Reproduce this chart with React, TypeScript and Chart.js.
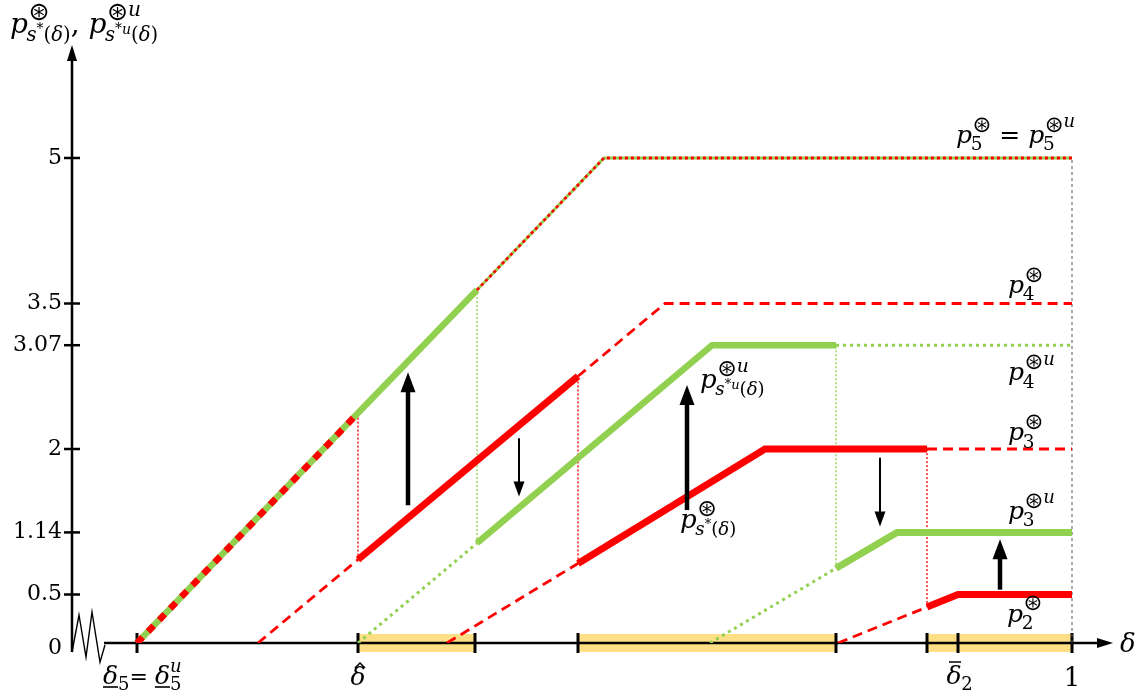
import React, { useEffect, useRef } from 'react';
import { Chart, registerables } from 'chart.js';
Chart.register(...registerables);

// ---------- data ----------
const yTicks = [0, 0.5, 1.14, 2, 3.07, 3.5, 5];
const xTicks = [0.065, 0.286, 0.403, 0.506, 0.764, 0.855, 0.886, 1];

const p5X = [0.065, 0.286, 0.405, 0.532, 1];
const p5Y = [0, 2.37, 3.64, 5, 5];
const p4X = [0.186, 0.286, 0.506, 0.593, 1];
const p4Y = [0, 0.86, 2.75, 3.5, 3.5];
const p4uX = [0.286, 0.405, 0.64, 0.764, 1];
const p4uY = [0, 1.03, 3.07, 3.07, 3.07];
const p3X = [0.375, 0.506, 0.693, 0.855, 1];
const p3Y = [0, 0.82, 2, 2, 2];
const p3uX = [0.638, 0.764, 0.825, 1];
const p3uY = [0, 0.77, 1.14, 1.14];
const p2X = [0.766, 0.855, 0.886, 1];
const p2Y = [0, 0.37, 0.5, 0.5];

// segment kinds per curve
const p5Kinds = ['mix', 'solid', 'thin', 'thin'];
const p4Kinds = ['dash', 'solid', 'dash', 'dash'];
const p4uKinds = ['dot', 'solid', 'solid', 'dot'];
const p3Kinds = ['dash', 'solid', 'solid', 'dash'];
const p3uKinds = ['dot', 'solid', 'solid'];
const p2Kinds = ['dash', 'solid', 'solid'];

// vertical connectors
const connX = [0.286, 0.405, 0.506, 0.764, 0.855, 1];
const connLo = [0.86, 1.03, 0.82, 0.77, 0.37, 0];
const connHi = [2.37, 3.64, 2.75, 3.07, 2, 5];
const connKind = ['red', 'green', 'red', 'green', 'red', 'black'];

// arrows
const arrowX = [0.336, 0.447, 0.615, 0.808, 0.928];
const arrowFrom = [1.42, 2.11, 1.37, 1.91, 0.55];
const arrowTo = [2.79, 1.51, 2.66, 1.2, 1.07];
const arrowBold = [true, false, true, false, true];

// highlighted intervals on the delta axis
const bandStart = [0.286, 0.506, 0.855];
const bandEnd = [0.403, 0.764, 1.0];

// label anchor positions (data coords)
const lblX = [0.884, 0.936, 0.936, 0.936, 0.936, 0.935, 0.628, 0.608];
const lblY = [5.155, 3.61, 2.71, 2.09, 1.28, 0.22, 2.63, 1.19];

const RED = '#FF0000';
const GREEN = '#92D050';
const YELLOW = '#FFDF85';
const SERIF = '"DejaVu Serif"';

// ---------- text helpers ----------
type Run = { t: string; k: number; r: number; it?: boolean; sans?: boolean };
const fnt = (s: number, it?: boolean, sans?: boolean) =>
  `${it ? 'italic ' : ''}${s.toFixed(1)}px ${sans ? '"DejaVu Sans"' : SERIF}`;
function runs(ctx: CanvasRenderingContext2D, x: number, y: number, S: number, list: Run[]) {
  for (const r of list) {
    ctx.font = fnt(S * r.k, r.it, r.sans);
    ctx.fillText(r.t, x, y - r.r * S);
    x += ctx.measureText(r.t).width;
  }
  return x;
}
const STAR: Run = { t: '⊛', k: 0.9, r: 0.45, sans: true };
const SUPU: Run = { t: 'u', k: 0.72, r: 0.62, it: true };
const sb = (t: string, it = false): Run => ({ t, k: 0.7, r: -0.28, it });
const SUB_S: Run[] = [sb('s', true), { t: '*', k: 0.5, r: 0.0 }, sb('('), sb('δ', true), sb(')')];
const SUB_SU: Run[] = [sb('s', true), { t: '*', k: 0.5, r: 0.0 }, { t: 'u', k: 0.5, r: -0.05, it: true }, sb('('), sb('δ', true), sb(')')];
function pBlock(ctx: CanvasRenderingContext2D, x: number, y: number, S: number, sup: Run[], sub: Run[]) {
  ctx.font = fnt(S, true);
  ctx.fillText('p', x, y);
  const x1 = x + ctx.measureText('p').width;
  const a = runs(ctx, x1 + S * 0.02, y, S, sup);
  const b = runs(ctx, x1 - S * 0.05, y, S, sub);
  return Math.max(a, b);
}

function arrowHead(ctx: CanvasRenderingContext2D, x: number, y: number, dx: number, dy: number, len: number, half: number) {
  const bx = x - dx * len, by = y - dy * len;
  ctx.beginPath();
  ctx.moveTo(x, y);
  ctx.lineTo(bx - dy * half, by + dx * half);
  ctx.lineTo(bx + dy * half, by - dx * half);
  ctx.closePath();
  ctx.fill();
}

const decor = {
  id: 'decor',
  beforeDatasetsDraw(chart: any) {
    const { ctx, scales } = chart;
    const xs = scales.x, ys = scales.y;
    const X = (v: number) => xs.getPixelForValue(v);
    const Y = (v: number) => ys.getPixelForValue(v);
    const ox = X(0), oy = Y(0);
    ctx.save();
    ctx.fillStyle = YELLOW;
    bandStart.forEach((s, i) => ctx.fillRect(X(s), oy - 9, X(bandEnd[i]) - X(s), 18));
    ctx.strokeStyle = '#000';
    ctx.fillStyle = '#000';
    ctx.lineWidth = 2.5;
    ctx.beginPath();
    ctx.moveTo(ox, oy + 9);
    ctx.lineTo(ox, ys.top + 14);
    ctx.stroke();
    arrowHead(ctx, ox, ys.top, 0, -1, 16, 5);
    const zz = [[0, 9], [7, -28], [14, 14], [20, -31], [28, 19], [33, 2]];
    ctx.lineWidth = 1.4;
    ctx.beginPath();
    zz.forEach(([dx, dy], i) => (i ? ctx.lineTo(ox + dx, oy + dy) : ctx.moveTo(ox + dx, oy + dy)));
    ctx.stroke();
    ctx.lineWidth = 2.5;
    ctx.beginPath();
    ctx.moveTo(ox + 32, oy);
    ctx.lineTo(xs.right - 12, oy);
    ctx.stroke();
    arrowHead(ctx, xs.right - 4, oy, 1, 0, 16, 5);
    ctx.lineWidth = 2.5;
    ctx.font = fnt(22);
    ctx.textAlign = 'right';
    ctx.textBaseline = 'middle';
    yTicks.forEach((v) => {
      if (v !== 0) {
        ctx.beginPath();
        ctx.moveTo(ox - 8, Y(v));
        ctx.lineTo(ox + 8, Y(v));
        ctx.stroke();
      }
      ctx.fillText(String(v), ox - 10, Y(v) + (v === 0 ? 5 : 0));
    });
    ctx.lineWidth = 3;
    xTicks.forEach((v) => {
      ctx.beginPath();
      ctx.moveTo(X(v), oy - 10);
      ctx.lineTo(X(v), oy + 10);
      ctx.stroke();
    });
    ctx.restore();
  },
  afterDatasetsDraw(chart: any) {
    const { ctx, scales } = chart;
    const xs = scales.x, ys = scales.y;
    const X = (v: number) => xs.getPixelForValue(v);
    const Y = (v: number) => ys.getPixelForValue(v);
    const ox = X(0), oy = Y(0);
    ctx.save();
    ctx.strokeStyle = '#000';
    ctx.fillStyle = '#000';
    arrowX.forEach((ax, i) => {
      const px = X(ax), y0 = Y(arrowFrom[i]), y1 = Y(arrowTo[i]);
      const dir = y1 < y0 ? -1 : 1;
      const bold = arrowBold[i];
      const len = bold ? 20 : 15;
      ctx.lineWidth = bold ? 4.5 : 2;
      ctx.beginPath();
      ctx.moveTo(px, y0);
      ctx.lineTo(px, y1 - dir * (len - 2));
      ctx.stroke();
      arrowHead(ctx, px, y1, 0, dir, len, bold ? 7.5 : 5.5);
    });

    ctx.textAlign = 'left';
    ctx.textBaseline = 'alphabetic';
    let x = pBlock(ctx, ox - 62, ys.top - 12, 28, [STAR], SUB_S);
    ctx.font = fnt(28);
    ctx.fillText(',', x, ys.top - 12);
    x += ctx.measureText(', ').width;
    pBlock(ctx, x, ys.top - 12, 28, [STAR, SUPU], SUB_SU);

    const S = 25;
    const sub = (d: string): Run[] => [{ t: d, k: 0.74, r: -0.3 }];
    let lx = pBlock(ctx, X(lblX[0]), Y(lblY[0]), S, [STAR], sub('5'));
    ctx.font = fnt(S);
    ctx.fillText(' = ', lx, Y(lblY[0]));
    lx += ctx.measureText(' = ').width;
    pBlock(ctx, lx, Y(lblY[0]), S, [STAR, SUPU], sub('5'));
    pBlock(ctx, X(lblX[1]), Y(lblY[1]), S, [STAR], sub('4'));
    pBlock(ctx, X(lblX[2]), Y(lblY[2]), S, [STAR, SUPU], sub('4'));
    pBlock(ctx, X(lblX[3]), Y(lblY[3]), S, [STAR], sub('3'));
    pBlock(ctx, X(lblX[4]), Y(lblY[4]), S, [STAR, SUPU], sub('3'));
    pBlock(ctx, X(lblX[5]), Y(lblY[5]), S, [STAR], sub('2'));
    pBlock(ctx, X(lblX[6]), Y(lblY[6]), 26, [STAR, SUPU], SUB_SU);
    pBlock(ctx, X(lblX[7]), Y(lblY[7]), 26, [STAR], SUB_S);

    // delta axis labels
    const by = oy + 41;
    ctx.font = fnt(25, true);
    let dx = X(0.031);
    ctx.fillText('δ', dx, by);
    const dw = ctx.measureText('δ').width;
    ctx.lineWidth = 1.6;
    ctx.beginPath();
    ctx.moveTo(dx, by + 3);
    ctx.lineTo(dx + dw, by + 3);
    ctx.stroke();
    dx += dw;
    ctx.font = fnt(18);
    ctx.fillText('5', dx, by + 6);
    dx += ctx.measureText('5').width;
    ctx.font = fnt(22);
    ctx.fillText('= ', dx, by);
    dx += ctx.measureText('= ').width;
    ctx.font = fnt(25, true);
    ctx.fillText('δ', dx, by);
    ctx.beginPath();
    ctx.moveTo(dx, by + 3);
    ctx.lineTo(dx + dw, by + 3);
    ctx.stroke();
    dx += dw;
    ctx.font = fnt(18);
    ctx.fillText('5', dx, by + 6);
    ctx.font = fnt(18, true);
    ctx.fillText('u', dx, by - 12);

    ctx.textAlign = 'center';
    // delta with hat
    const hx = X(0.286);
    ctx.font = fnt(25, true);
    ctx.fillText('δ', hx, by + 1);
    ctx.lineWidth = 1.5;
    ctx.beginPath();
    ctx.moveTo(hx - 3, by - 16);
    ctx.lineTo(hx + 2, by - 21);
    ctx.lineTo(hx + 7, by - 16);
    ctx.stroke();
    // delta bar 2
    const bx = X(0.886) - 4;
    ctx.fillText('δ', bx, by);
    ctx.beginPath();
    ctx.moveTo(bx - 5, by - 22);
    ctx.lineTo(bx + 7, by - 22);
    ctx.stroke();
    ctx.font = fnt(18);
    ctx.fillText('2', bx + 13, by + 6);
    ctx.font = fnt(26);
    ctx.fillText('1', X(1), by + 2);
    ctx.font = fnt(26, true);
    ctx.textAlign = 'left';
    ctx.fillText('δ', xs.right + 3, oy + 9);
    ctx.restore();
  },
};

function pts(xa: number[], ya: number[]) {
  return xa.map((x, i) => ({ x, y: ya[i] }));
}

function styled(kinds: string[], color: string, order: number, solidW: number) {
  return {
    data: [] as any[],
    showLine: true,
    pointRadius: 0,
    borderColor: color,
    borderWidth: solidW,
    order,
    segment: {
      borderWidth: (c: any) => {
        const k = kinds[c.p0DataIndex];
        return k === 'solid' ? solidW : k === 'dot' ? 3 : 2.8;
      },
      borderDash: (c: any) => {
        const k = kinds[c.p0DataIndex];
        return k === 'dash' ? [10, 6] : k === 'dot' ? [3, 4] : [];
      },
    },
  };
}

export default function App() {
  const ref = useRef<HTMLCanvasElement>(null);
  useEffect(() => {
    document.body.style.margin = '0';
    const connColors: Record<string, string> = { red: RED, green: GREEN, black: '#555' };
    const connSets = connX.map((cx, i) => ({
      data: [{ x: cx, y: connLo[i] }, { x: cx, y: connHi[i] }],
      showLine: true,
      pointRadius: 0,
      borderColor: connColors[connKind[i]],
      borderWidth: connKind[i] === 'black' ? 1 : 1.4,
      borderDash: connKind[i] === 'black' ? [3, 3] : [2, 2],
      order: 20,
    }));
    const p4 = { ...styled(p4Kinds, RED, 5, 7), data: pts(p4X, p4Y) };
    const p4u = { ...styled(p4uKinds, GREEN, 5, 6.5), data: pts(p4uX, p4uY) };
    const p3 = { ...styled(p3Kinds, RED, 5, 7), data: pts(p3X, p3Y) };
    const p3u = { ...styled(p3uKinds, GREEN, 5, 7), data: pts(p3uX, p3uY) };
    const p2 = { ...styled(p2Kinds, RED, 5, 7), data: pts(p2X, p2Y) };
    const p5green = {
      data: pts(p5X, p5Y),
      showLine: true,
      pointRadius: 0,
      borderColor: GREEN,
      order: 3,
      segment: {
        borderWidth: (c: any) => (p5Kinds[c.p0DataIndex] === 'thin' ? 2.8 : 6.5),
      },
    };
    const p5red = {
      data: pts(p5X, p5Y),
      showLine: true,
      pointRadius: 0,
      borderColor: RED,
      order: 1,
      segment: {
        borderColor: (c: any) => (p5Kinds[c.p0DataIndex] === 'solid' ? 'rgba(0,0,0,0)' : RED),
        borderWidth: (c: any) => (p5Kinds[c.p0DataIndex] === 'thin' ? 2.8 : 6.5),
        borderDash: (c: any) => (p5Kinds[c.p0DataIndex] === 'thin' ? [3, 3] : [8, 8]),
      },
    };
    const chart = new Chart(ref.current!, {
      type: 'scatter',
      data: { datasets: [p5red, p5green, p4, p4u, p3, p3u, p2, ...connSets] as any },
      options: {
        animation: false,
        responsive: false,
        layout: { padding: { left: 72, top: 45, right: 23, bottom: 57 } },
        plugins: { legend: { display: false }, tooltip: { enabled: false } },
        scales: {
          x: { type: 'linear', min: 0, max: 1.045, display: false },
          y: { type: 'linear', min: 0, max: 598 / 97, display: false },
        },
        elements: { line: { tension: 0, borderCapStyle: 'butt' } },
      },
      plugins: [decor as any],
    });
    return () => chart.destroy();
  }, []);
  return (
    <div style={{ position: 'fixed', left: 0, top: 0, width: 1140, height: 700, background: '#fff' }}>
      <canvas ref={ref} width={1140} height={700} />
    </div>
  );
}
